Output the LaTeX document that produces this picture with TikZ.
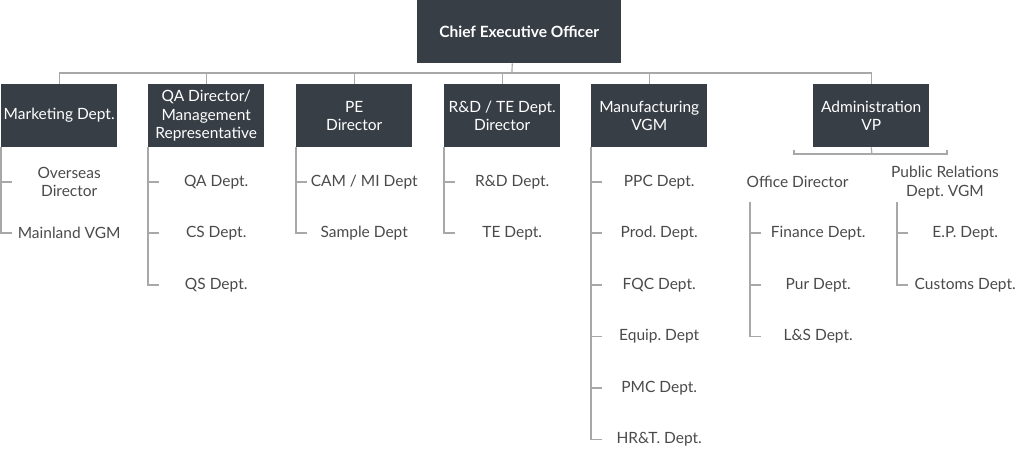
\documentclass[tikz,border=0pt]{standalone}
\usepackage{fontspec}
\setmainfont{Lato}
\frenchspacing
\begin{document}
\begin{tikzpicture}[x=1pt,y=-1pt,
  box/.style={fill=boxc, text=white, minimum width=116pt, minimum height=63pt, inner sep=0pt, align=center, font=\fontsize{15.5}{18.3}\selectfont, anchor=north west},
  ceobox/.style={box, minimum width=204pt, font=\fontsize{15.5}{18.3}\selectfont\bfseries},
  item/.style={text=txtc, minimum width=114pt, inner sep=0pt, align=center, anchor=west, font=\fontsize{15.5}{18.3}\selectfont},
  sub/.style={text=txtc, inner sep=0pt, align=center, font=\fontsize{15.5}{18.3}\selectfont},
  conn/.style={draw=linec, line width=1.2pt}
]
\definecolor{boxc}{HTML}{373E46}
\definecolor{txtc}{HTML}{4A4A4A}
\definecolor{linec}{HTML}{A8A8A8}
\useasboundingbox (0,0) rectangle (1024,460);

% top
\node[ceobox] (ceo) at (417,0) {Chief Executive Officer};
\node[box] (mkt) at (1,84) {Marketing Dept.};
\node[box] (qa) at (148,84) {QA Director/\\Management\\Representative};
\node[box] (pe) at (296,84) {PE\\Director};
\node[box] (rd) at (444,84) {R\&D / TE Dept.\\Director};
\node[box] (mfg) at (591,84) {Manufacturing\\VGM};
\node[box] (adm) at (813,84) {Administration\\VP};

\coordinate (bar) at (512,73);
\draw[conn] ([xshift=-7pt]ceo.south) -- (bar);
\draw[conn] (mkt.north) |- (bar);
\draw[conn] (adm.north) |- (bar);
\foreach \n in {qa,pe,rd,mfg} \draw[conn] (\n.north) -- (\n.north |- bar);

% Marketing children
\node[item] (m1) at (12,182) {Overseas\\Director};
\node[item] (m2) at (12,233) {Mainland VGM};
\draw[conn] (mkt.south west) |- (m2.west);
\draw[conn] (mkt.south west |- m1.west) -- (m1.west);

% QA children
\node[item] (q1) at (159,182) {QA Dept.};
\node[item] (q2) at (159,233) {CS Dept.};
\node[item] (q3) at (159,285) {QS Dept.};
\draw[conn] (qa.south west) |- (q3.west);
\foreach \n in {q1,q2} \draw[conn] (qa.south west |- \n.west) -- (\n.west);

% PE children
\node[item] (p1) at (307,182) {CAM / MI Dept};
\node[item] (p2) at (307,233) {Sample Dept};
\draw[conn] (pe.south west) |- (p2.west);
\draw[conn] (pe.south west |- p1.west) -- (p1.west);

% R&D children
\node[item] (r1) at (455,182) {R\&D Dept.};
\node[item] (r2) at (455,233) {TE Dept.};
\draw[conn] (rd.south west) |- (r2.west);
\draw[conn] (rd.south west |- r1.west) -- (r1.west);

% Manufacturing children
\node[item] (f1) at (602,182) {PPC Dept.};
\node[item] (f2) at (602,233) {Prod. Dept.};
\node[item] (f3) at (602,285) {FQC Dept.};
\node[item] (f4) at (602,336.5) {Equip. Dept};
\node[item] (f5) at (602,388) {PMC Dept.};
\node[item] (f6) at (602,439.5) {HR\&T. Dept.};
\draw[conn] (mfg.south west) |- (f6.west);
\foreach \n in {f1,f2,f3,f4,f5} \draw[conn] (mfg.south west |- \n.west) -- (\n.west);

% Administration
\node[sub] (od) at (797.5,182) {Office Director};
\node[sub] (pr) at (945,182.5) {Public Relations\\Dept. VGM};
\coordinate (ab) at (872,154);
\draw[conn] (adm.south) -- (ab);
\draw[conn] ([yshift=4pt]ab -| 794,0) -- (ab -| 794,0) -- (ab -| 947,0) -- ([yshift=4pt]ab -| 947,0);

\coordinate (odl) at (750,202);
\node[item] (o1) at (761,233) {Finance Dept.};
\node[item] (o2) at (761,285) {Pur Dept.};
\node[item] (o3) at (761,336.5) {L\&S Dept.};
\draw[conn] (odl) |- (o3.west);
\foreach \n in {o1,o2} \draw[conn] (odl |- \n.west) -- (\n.west);

\coordinate (prl) at (897,202);
\node[item] (e1) at (908,233) {E.P. Dept.};
\node[item] (e2) at (908,285) {Customs Dept.};
\draw[conn] (prl) |- (e2.west);
\draw[conn] (prl |- e1.west) -- (e1.west);
\end{tikzpicture}
\end{document}
